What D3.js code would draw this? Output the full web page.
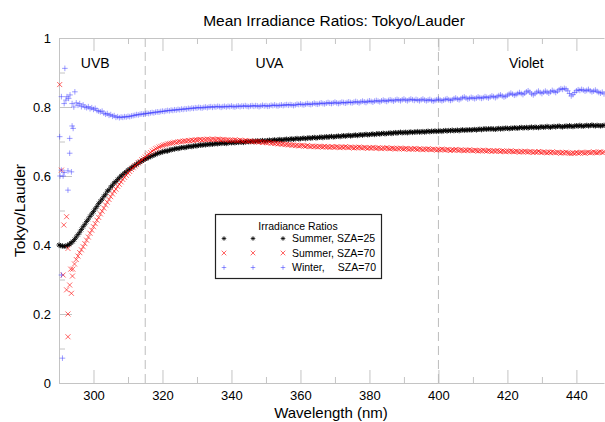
<!DOCTYPE html>
<html><head><meta charset="utf-8">
<script src="https://cdn.jsdelivr.net/npm/d3@7"></script>
<style>
body{margin:0;background:#fff}
svg{display:block}
text{font-family:"Liberation Sans",Arial,Helvetica,sans-serif;fill:#000}
</style>
</head><body>
<svg id="c" width="605" height="422"></svg>
<script>
// ---------------- DATA ----------------
const wlStep = 0.5;
// Summer, SZA=25 (starts at 290 nm, 0.5 nm steps)
const blackStart = 290;
const blackVals = [
0.400,0.398,0.397,0.396,0.397,0.399,0.402,0.406,0.410,0.416,
0.423,0.430,0.437,0.445,0.453,0.460,0.468,0.475,0.483,0.490,
0.497,0.505,0.512,0.520,0.527,0.533,0.541,0.547,0.556,0.560,
0.568,0.573,0.580,0.584,0.590,0.595,0.600,0.604,0.609,0.612,
0.617,0.620,0.624,0.627,0.631,0.634,0.638,0.640,0.644,0.646,
0.649,0.651,0.654,0.656,0.659,0.660,0.663,0.665,0.667,0.668,
0.670,0.671,0.673,0.672,0.675,0.676,0.677,0.678,0.680,0.679,
0.681,0.682,0.683,0.682,0.684,0.685,0.686,0.685,0.687,0.688,
0.687,0.689,0.690,0.689,0.691,0.690,0.692,0.691,0.693,0.692,
0.693,0.694,0.693,0.695,0.694,0.696,0.695,0.694,0.696,0.697,
0.696,0.697,0.696,0.698,0.697,0.699,0.698,0.697,0.699,0.700,
0.699,0.700,0.701,0.699,0.701,0.702,0.700,0.702,0.703,0.701,
0.702,0.703,0.704,0.702,0.704,0.705,0.703,0.705,0.706,0.704,
0.705,0.706,0.707,0.705,0.707,0.708,0.706,0.708,0.709,0.707,
0.708,0.709,0.710,0.708,0.710,0.711,0.709,0.711,0.712,0.710,
0.711,0.712,0.713,0.711,0.713,0.714,0.712,0.714,0.715,0.713,
0.714,0.715,0.716,0.714,0.716,0.717,0.715,0.717,0.718,0.716,
0.717,0.718,0.719,0.717,0.719,0.720,0.718,0.720,0.721,0.719,
0.720,0.721,0.722,0.720,0.722,0.723,0.721,0.723,0.724,0.722,
0.723,0.724,0.725,0.723,0.725,0.726,0.724,0.726,0.727,0.725,
0.726,0.727,0.725,0.727,0.728,0.726,0.728,0.727,0.729,0.727,
0.728,0.729,0.727,0.729,0.730,0.728,0.730,0.729,0.731,0.729,
0.730,0.731,0.729,0.731,0.732,0.730,0.732,0.731,0.733,0.731,
0.732,0.733,0.731,0.733,0.734,0.732,0.734,0.733,0.734,0.733,
0.734,0.735,0.733,0.735,0.736,0.734,0.736,0.737,0.735,0.737,
0.736,0.737,0.736,0.735,0.737,0.738,0.736,0.738,0.737,0.739,
0.738,0.737,0.739,0.738,0.740,0.739,0.738,0.740,0.741,0.739,
0.740,0.741,0.739,0.741,0.742,0.740,0.742,0.741,0.740,0.742,
0.743,0.741,0.742,0.744,0.742,0.741,0.743,0.744,0.742,0.744,
0.745,0.743,0.742,0.744,0.745,0.743,0.746,0.744,0.743,0.745,
0.746,0.744,0.747,0.745,0.744,0.746,0.747,0.745,0.746,0.748,
0.746,0.745,0.747,0.746,0.745,0.746,0.747
];
// Summer, SZA=70 (main band starts at 294 nm)
const redStart = 294;
const redVals = [
0.330,0.345,
0.358,0.368,0.378,0.386,0.395,0.404,0.414,0.423,0.434,0.443,
0.453,0.462,0.472,0.480,0.490,0.498,0.507,0.516,0.524,0.532,
0.540,0.548,0.556,0.562,0.570,0.576,0.583,0.590,0.596,0.602,
0.608,0.613,0.619,0.624,0.629,0.633,0.638,0.642,0.647,0.651,
0.655,0.660,0.664,0.668,0.672,0.675,0.679,0.681,0.684,0.686,
0.688,0.690,0.691,0.693,0.694,0.695,0.696,0.698,0.697,0.699,
0.700,0.699,0.701,0.702,0.701,0.703,0.702,0.704,0.703,0.705,
0.704,0.705,0.706,0.704,0.706,0.705,0.707,0.706,0.705,0.707,
0.706,0.705,0.707,0.706,0.704,0.706,0.705,0.704,0.705,0.703,
0.704,0.703,0.705,0.703,0.702,0.704,0.702,0.701,0.703,0.701,
0.700,0.702,0.700,0.699,0.701,0.699,0.698,0.700,0.697,0.698,
0.697,0.696,0.698,0.695,0.696,0.694,0.695,0.693,0.694,0.692,
0.693,0.691,0.692,0.690,0.691,0.689,0.690,0.688,0.689,0.687,
0.688,0.689,0.687,0.686,0.688,0.686,0.685,0.687,0.685,0.686,
0.684,0.686,0.685,0.684,0.686,0.684,0.685,0.683,0.685,0.684,
0.683,0.685,0.684,0.682,0.684,0.683,0.685,0.683,0.682,0.684,
0.683,0.681,0.683,0.682,0.684,0.682,0.681,0.683,0.682,0.680,
0.682,0.681,0.683,0.681,0.680,0.682,0.681,0.679,0.681,0.680,
0.682,0.680,0.679,0.681,0.680,0.678,0.680,0.679,0.681,0.679,
0.678,0.680,0.679,0.677,0.679,0.678,0.680,0.678,0.677,0.679,
0.678,0.676,0.678,0.677,0.679,0.677,0.676,0.678,0.677,0.675,
0.677,0.676,0.678,0.676,0.675,0.677,0.676,0.674,0.676,0.675,
0.677,0.675,0.674,0.676,0.675,0.673,0.675,0.674,0.676,0.674,
0.673,0.675,0.674,0.672,0.674,0.673,0.675,0.673,0.672,0.674,
0.673,0.671,0.673,0.672,0.674,0.672,0.671,0.673,0.672,0.670,
0.672,0.671,0.673,0.671,0.670,0.672,0.671,0.669,0.671,0.670,
0.672,0.670,0.669,0.671,0.670,0.668,0.670,0.669,0.671,0.669,
0.668,0.670,0.669,0.667,0.669,0.668,0.670,0.668,0.667,0.669,
0.668,0.666,0.668,0.667,0.669,0.667,0.666,0.665,0.667,0.666,
0.668,0.666,0.667,0.669,0.667,0.666,0.668,0.669,0.667,0.668,
0.670,0.668,0.667,0.669,0.670,0.668,0.669
];
// Summer, SZA=70: scattered short-wave points
const redScatterWl   = [290.2,290.7,291.4,292.2,292.6,291.2,292.2,293.1,293.6,292.6,292.6,293.9,293.4];
const redScatterVals = [0.865,0.617,0.458,0.482,0.390,0.313,0.270,0.284,0.260,0.200,0.134,0.310,0.330];
// Winter, SZA=70 (main band starts at 295 nm)
const blueStart = 295;
const blueVals = [
0.812,0.805,0.810,0.801,0.806,0.800,0.798,0.801,0.795,0.798,
0.793,0.796,0.790,0.788,0.786,0.788,0.782,0.779,0.781,0.776,
0.778,0.773,0.775,0.770,0.772,0.769,0.771,0.770,0.772,0.771,
0.773,0.772,0.774,0.775,0.776,0.778,0.777,0.779,0.780,0.779,
0.781,0.782,0.781,0.783,0.784,0.783,0.785,0.786,0.785,0.787,
0.788,0.787,0.789,0.790,0.789,0.791,0.790,0.792,0.791,0.793,
0.792,0.794,0.793,0.795,0.794,0.796,0.795,0.797,0.796,0.798,
0.797,0.799,0.798,0.797,0.799,0.800,0.798,0.800,0.801,0.799,
0.801,0.800,0.802,0.801,0.799,0.801,0.802,0.800,0.802,0.801,
0.803,0.801,0.800,0.802,0.803,0.801,0.803,0.802,0.804,0.802,
0.801,0.803,0.804,0.802,0.804,0.803,0.801,0.803,0.805,0.803,
0.804,0.802,0.803,0.805,0.804,0.806,0.804,0.803,0.805,0.806,
0.804,0.806,0.807,0.805,0.807,0.806,0.804,0.806,0.808,0.807,
0.809,0.807,0.806,0.808,0.810,0.808,0.807,0.809,0.811,0.809,
0.808,0.810,0.812,0.810,0.809,0.811,0.813,0.811,0.810,0.812,
0.814,0.812,0.810,0.812,0.814,0.813,0.811,0.813,0.815,0.813,
0.812,0.814,0.816,0.814,0.812,0.815,0.817,0.815,0.813,0.816,
0.818,0.816,0.814,0.817,0.819,0.817,0.815,0.818,0.820,0.818,
0.816,0.819,0.821,0.819,0.817,0.820,0.822,0.820,0.818,0.821,
0.823,0.820,0.818,0.821,0.823,0.821,0.819,0.822,0.820,0.818,
0.821,0.823,0.820,0.818,0.820,0.822,0.819,0.817,0.819,0.821,
0.823,0.820,0.818,0.820,0.822,0.824,0.821,0.819,0.821,0.824,
0.826,0.823,0.821,0.824,0.827,0.829,0.826,0.823,0.825,0.828,
0.826,0.824,0.826,0.829,0.827,0.825,0.827,0.830,0.828,0.826,
0.829,0.832,0.830,0.827,0.830,0.833,0.835,0.832,0.829,0.831,
0.834,0.837,0.840,0.837,0.834,0.836,0.839,0.842,0.839,0.836,
0.840,0.844,0.847,0.843,0.838,0.835,0.839,0.843,0.846,0.842,
0.839,0.843,0.846,0.843,0.840,0.844,0.848,0.845,0.842,0.846,
0.850,0.853,0.851,0.854,0.852,0.847,0.839,0.832,0.836,0.842,
0.847,0.850,0.848,0.851,0.849,0.846,0.848,0.851,0.847,0.844,
0.846,0.849,0.845,0.842,0.840,0.843,0.838
];
// Winter, SZA=70: scattered short-wave points
const blueScatterWl   = [291.7,290.7,291.5,292.0,292.3,292.8,293.2,294.6,293.8,294.3,290.2,293.1,294.1,293.8,290.3,290.7,291.5,292.6,293.6,291.2,292.6,293.1,290.7,291.0];
const blueScatterVals = [0.912,0.830,0.810,0.820,0.830,0.825,0.835,0.844,0.810,0.800,0.714,0.709,0.738,0.745,0.600,0.617,0.610,0.615,0.612,0.600,0.559,0.666,0.313,0.072];

const xMajor = [300,320,340,360,380,400,420,440];
const xMinor = [310,330,350,370,390,410,430];
const yMajor = [0,0.2,0.4,0.6,0.8,1];
const yMajorLabels = ["0","0.2","0.4","0.6","0.8","1"];
const yMinor = [0.1,0.3,0.5,0.7,0.9];
const bandEdges = [315,400];
const bandLabels = [{t:"UVB",w:300.5},{t:"UVA",w:351},{t:"Violet",w:425.5}];
const seriesNames = ["Summer, SZA=25","Summer, SZA=70","Winter,"];

// ---------------- CHART ----------------
const svg = d3.select("#c");
const x = d3.scaleLinear().domain([290,448]).range([59,604]);
const y = d3.scaleLinear().domain([0,1]).range([383,38]);
const axisColor = "#c4c4c4";

function styleAxis(g){
  g.selectAll(".domain").attr("stroke",axisColor).attr("stroke-width",1);
  g.selectAll(".tick line").attr("stroke",axisColor).attr("stroke-width",1);
  g.selectAll(".tick text").attr("font-size","13px").attr("fill","#000")
    .attr("font-family",'"Liberation Sans",Arial,sans-serif');
}

// bottom
const gB = svg.append("g").attr("transform","translate(0,383)")
  .call(d3.axisBottom(x).tickValues(xMajor).tickSizeInner(-13).tickSizeOuter(0).tickPadding(8).tickFormat(d3.format("d")));
styleAxis(gB);
const gBm = svg.append("g").attr("transform","translate(0,383)")
  .call(d3.axisBottom(x).tickValues(xMinor).tickSizeInner(-6).tickSizeOuter(0).tickFormat(""));
styleAxis(gBm); gBm.select(".domain").remove();
// top
const gT = svg.append("g").attr("transform","translate(0,38)")
  .call(d3.axisTop(x).tickValues(xMajor).tickSizeInner(-13).tickSizeOuter(0).tickFormat(""));
styleAxis(gT);
const gTm = svg.append("g").attr("transform","translate(0,38)")
  .call(d3.axisTop(x).tickValues(xMinor).tickSizeInner(-6).tickSizeOuter(0).tickFormat(""));
styleAxis(gTm); gTm.select(".domain").remove();
// left
const gL = svg.append("g").attr("transform","translate(59,0)")
  .call(d3.axisLeft(y).tickValues(yMajor).tickSizeInner(-13).tickSizeOuter(0).tickPadding(8)
    .tickFormat((d,i)=>yMajorLabels[i]));
styleAxis(gL);
const gLm = svg.append("g").attr("transform","translate(59,0)")
  .call(d3.axisLeft(y).tickValues(yMinor).tickSizeInner(-6).tickSizeOuter(0).tickFormat(""));
styleAxis(gLm); gLm.select(".domain").remove();

// band separators
svg.append("g").selectAll("line").data(bandEdges).join("line")
  .attr("x1",d=>x(d)).attr("x2",d=>x(d)).attr("y1",y(1)).attr("y2",y(0))
  .attr("stroke","#bdbdbd").attr("stroke-width",1).attr("stroke-dasharray","9,5");

svg.append("g").selectAll("text").data(bandLabels).join("text")
  .attr("x",d=>x(d.w)).attr("y",68).attr("text-anchor","middle")
  .attr("font-size","14px").text(d=>d.t);

// marker paths
function star(cx,cy,s){
  const d=s*0.72;
  return `M${cx-s},${cy}L${cx+s},${cy}M${cx},${cy-s}L${cx},${cy+s}M${cx-d},${cy-d}L${cx+d},${cy+d}M${cx-d},${cy+d}L${cx+d},${cy-d}`;
}
function cross(cx,cy,s){
  return `M${cx-s},${cy-s}L${cx+s},${cy+s}M${cx-s},${cy+s}L${cx+s},${cy-s}`;
}
function plus(cx,cy,s){
  return `M${cx-s},${cy}L${cx+s},${cy}M${cx},${cy-s}L${cx},${cy+s}`;
}

const blackPts = blackVals.map((v,i)=>({w:blackStart+i*wlStep,v}));
const redPts = redScatterWl.map((w,i)=>({w,v:redScatterVals[i]}))
  .concat(redVals.map((v,i)=>({w:redStart+i*wlStep,v})));
const bluePts = blueScatterWl.map((w,i)=>({w,v:blueScatterVals[i]}))
  .concat(blueVals.map((v,i)=>({w:blueStart+i*wlStep,v})));

svg.append("g").selectAll("path").data(blackPts).join("path")
  .attr("d",d=>star(x(d.w),y(d.v),2.6)).attr("stroke","#000").attr("stroke-width",0.8).attr("fill","none");
svg.append("g").selectAll("path").data(redPts).join("path")
  .attr("d",d=>cross(x(d.w),y(d.v),2.5)).attr("stroke","#ff0000").attr("stroke-width",0.75).attr("stroke-opacity",0.8).attr("fill","none");
svg.append("g").selectAll("path").data(bluePts).join("path")
  .attr("d",d=>plus(x(d.w),y(d.v),2.8)).attr("stroke","#2b2bff").attr("stroke-width",0.7).attr("stroke-opacity",0.65).attr("fill","none");

// titles
svg.append("text").attr("x",334).attr("y",26).attr("text-anchor","middle")
  .attr("font-size","15.5px").text("Mean Irradiance Ratios: Tokyo/Lauder");
svg.append("text").attr("x",331).attr("y",418).attr("text-anchor","middle")
  .attr("font-size","15px").text("Wavelength (nm)");
svg.append("text").attr("transform","translate(25,210.5) rotate(-90)").attr("text-anchor","middle")
  .attr("font-size","15.5px").text("Tokyo/Lauder");

// legend
const lg = svg.append("g");
lg.append("rect").attr("x",215.5).attr("y",214.5).attr("width",166).attr("height",64)
  .attr("fill","#fff").attr("stroke","#222").attr("stroke-width",1.2);
lg.append("text").attr("x",298).attr("y",230).attr("text-anchor","middle")
  .attr("font-size","10.5px").text("Irradiance Ratios");
const rowsY = [242,256.5,271];
const markerX = [224,253,283];
const fns = [star,cross,plus];
const cols = ["#000","#ff0000","#2b2bff"];
const ops = [1,0.8,0.65];
rowsY.forEach((ry,i)=>{
  markerX.forEach(mx=>{
    lg.append("path").attr("d",fns[i](mx,ry-3.5,2.3)).attr("stroke",cols[i])
      .attr("stroke-width",0.75).attr("stroke-opacity",ops[i]).attr("fill","none");
  });
  lg.append("text").attr("x",292).attr("y",ry).attr("font-size","10.5px").text(seriesNames[i]);
});
lg.append("text").attr("x",376).attr("y",rowsY[2]).attr("text-anchor","end")
  .attr("font-size","10.5px").text("SZA=70");
</script>
</body></html>
